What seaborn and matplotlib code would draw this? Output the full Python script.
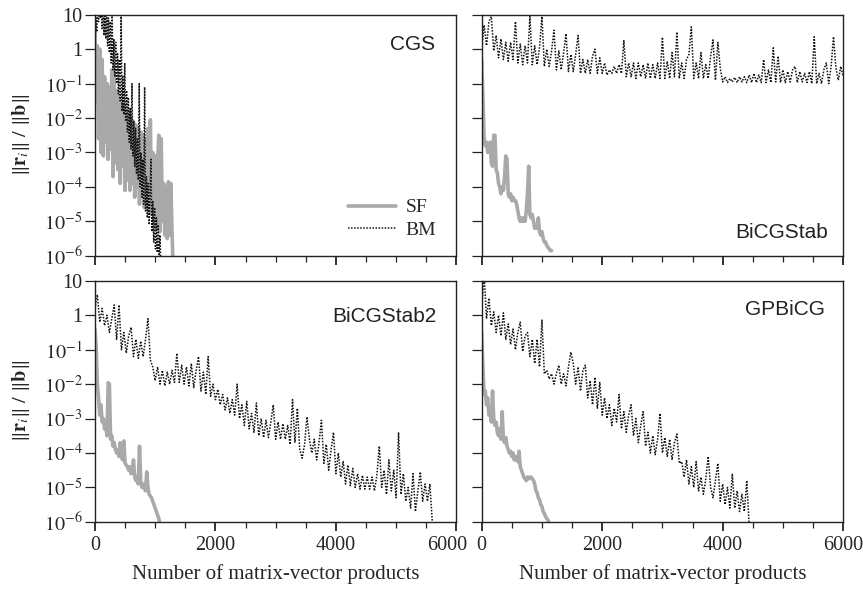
import numpy as np
import pandas as pd
import matplotlib
matplotlib.use("Agg")
import matplotlib.pyplot as plt
import seaborn as sns
from matplotlib.lines import Line2D
from matplotlib.transforms import ScaledTranslation
from matplotlib.ticker import FixedLocator, FixedFormatter, MultipleLocator, NullLocator


# residual histories as log10(||r_i|| / ||b||)
# SF sampled every 20 matvecs, BM every 40 (CGS BM every 15)
SF_STEP = 20
BM_STEP = 40
CGS_BM_STEP = 15

cgs_sf = [
    0.7, -1.5, 0.1, -2.6, 0.0, -3.0, -0.3, -3.1, -0.8, -2.7,
    -1.0, -3.2, -1.1, -2.9, -0.6, -3.7, -0.8, -3.3, -1.2, -3.5,
    -1.4, -3.9, -1.6, -3.4, -1.6, -4.1, -1.8, -3.8, -1.9, -4.1,
    -2.0, -3.9, -2.1, -4.3, -2.2, -4.0, -2.3, -4.5, -2.4, -4.2,
    -2.5, -4.6, -2.6, -4.4, -2.3, -4.7, -2.05, -4.8, -3.0, -5.0,
    -3.1, -5.2, -3.3, -2.5, -5.3, -2.6, -5.0, -3.9, -5.4, -4.0,
    -5.5, -3.85, -5.4, -3.9, -5.3, -6.5,
]
cgs_bm = [
    0.0, 0.9, 0.5, 1.3, 0.8, 1.4, 0.9, 1.3, 0.6, 1.6,
    0.4, 1.4, 0.3, 1.3, 0.1, 0.9, -0.1, 0.8, -0.4, 1.1,
    -0.6, 0.3, -0.8, 0.2, -1.0, -0.1, -1.3, -0.3, -1.5, 1.0,
    -1.8, -0.8, -1.9, -0.4, -2.1, -1.2, -2.4, -1.4, -2.7, -1.7,
    -2.9, -1.0, -3.1, -2.1, -3.4, -2.3, -3.6, -2.6, -3.8, -1.0,
    -4.0, -3.0, -4.3, -3.2, -4.5, -1.1, -4.7, -3.7, -4.9, -3.9,
    -5.1, -4.1, -3.2, -5.3, -4.4, -5.6, -4.6, -5.8, -4.9, -5.9,
    -5.1, -6.0, -5.4, -6.3,
]

bicgstab_sf = [
    -0.3, -1.4, -2.6, -2.8, -2.7, -3.0, -2.8, -2.7, -3.3, -3.4,
    -2.5, -2.5, -3.5, -3.6, -3.9, -4.0, -4.2, -4.0, -4.1, -3.7,
    -3.1, -3.2, -4.2, -4.3, -4.2, -4.4, -4.3, -4.4, -4.4, -4.5,
    -4.7, -4.9, -5.0, -4.9, -5.0, -4.9, -5.0, -4.7, -4.2, -3.4,
    -4.8, -4.9, -4.8, -5.0, -5.2, -5.1, -5.2, -4.9, -5.3, -5.4,
    -5.3, -5.5, -5.6, -5.6, -5.7, -5.75, -5.8, -5.85, -5.85,
]
bicgstab_bm = [
    0.0, 0.7, 0.1, 0.8, 0.95, -0.05, 0.4, -0.25, 0.3, -0.3,
    0.2, -0.35, 0.2, -0.3, 0.8, -0.4, 0.15, -0.45, 0.1, -0.4,
    0.95, -0.45, 0.1, -0.45, 0.05, 0.95, -0.5, 0.0, -0.5, -0.05,
    0.55, -0.6, -0.05, -0.6, -0.1, 0.45, -0.65, -0.15, -0.65, -0.15,
    0.4, -0.7, -0.3, -0.7, -0.3, -0.7, -0.2, 0.0, -0.7, -0.25,
    -0.7, -0.4, -0.75, -0.6, -0.7, -0.5, -0.7, -0.45, -0.7, 0.25,
    -0.8, -0.4, -0.8, -0.4, -0.85, -0.4, -0.8, -0.45, -0.85, -0.4,
    -0.85, -0.45, -0.85, -0.4, -0.85, 0.35, -0.85, -0.35, -0.85, -0.1,
    -0.8, 0.5, -0.85, -0.4, -0.85, -0.3, -0.15, 0.65, -0.85, -0.4,
    -0.85, -0.1, -0.85, -0.45, -0.85, -0.2, 0.27, -0.9, 0.2, -0.55,
    -0.95, -0.8, -0.97, -0.85, -0.95, -0.82, -0.97, -0.8, -0.95, -0.8,
    -0.97, -0.75, -0.97, -0.7, -0.97, -0.75, -0.97, -0.3, -0.97, -0.6,
    -0.97, 0.04, -0.95, -0.2, -0.97, -0.6, -0.97, -0.65, -0.95, -0.6,
    -0.5, -0.97, -0.65, -0.95, -0.7, -0.97, -0.65, -1.0, 0.36, -1.0,
    -0.7, -1.0, -0.6, -0.4, -1.0, -0.5, 0.36, -0.55, -0.9, -0.5,
    -0.8,
]

bicgstab2_sf = [
    -0.4, -0.9, -2.0, -2.4, -2.9, -2.6, -3.1, -3.0, -3.3, -3.2,
    -3.5, -1.96, -2.0, -3.6, -3.5, -3.8, -3.7, -3.9, -4.0, -3.9,
    -4.1, -3.7, -4.1, -4.2, -3.65, -4.3, -4.35, -4.4, -4.5, -4.4,
    -4.6, -4.5, -4.2, -4.7, -4.8, -4.7, -4.9, -3.8, -4.8, -5.0,
    -4.9, -5.0, -5.1, -4.55, -5.0, -5.2, -5.25, -5.3, -5.4, -5.5,
    -5.6, -5.7, -5.8, -5.9, -6.1,
]
bicgstab2_bm = [
    0.2, 0.6, -0.2, 0.2, -0.3, 0.0, -0.5, -0.1, 0.3, -0.7,
    0.3, -1.0, -0.5, -1.1, -0.6, -0.35, -1.2, -0.7, -1.25, -0.75,
    -1.2, -0.7, -0.1, -1.3, -1.5, -1.9, -1.5, -2.0, -1.6, -2.05,
    -1.65, -2.0, -1.6, -1.95, -1.1, -1.95, -1.45, -2.0, -1.5, -2.05,
    -1.4, -2.1, -1.6, -1.2, -2.2, -1.65, -2.3, -1.2, -2.35, -2.0,
    -2.45, -2.15, -2.6, -2.3, -2.75, -2.4, -2.85, -2.45, -2.9, -2.0,
    -3.0, -2.6, -3.2, -2.5, -3.3, -2.85, -3.4, -2.55, -3.5, -3.0,
    -3.55, -3.05, -3.55, -3.1, -2.6, -3.6, -3.1, -3.6, -3.15, -3.6,
    -3.2, -3.75, -2.45, -3.7, -2.7, -3.9, -4.15, -3.75, -2.95, -3.6,
    -4.0, -3.6, -4.2, -3.7, -3.05, -4.3, -3.75, -4.5, -3.9, -3.4,
    -4.6, -4.0, -4.7, -4.25, -4.9, -4.35, -4.95, -4.45, -5.0, -4.6,
    -5.05, -4.65, -5.05, -4.7, -5.05, -4.7, -5.1, -4.65, -3.8, -5.0,
    -4.5, -5.2, -4.2, -5.1, -4.5, -5.3, -3.4, -5.2, -4.6, -5.4,
    -5.0, -5.6, -4.6, -5.7, -5.1, -4.55, -5.4, -4.9, -5.4, -4.9,
    -6.0,
]

gpbicg_sf = [
    -0.5, -1.5, -2.3, -2.2, -2.6, -2.4, -2.9, -2.7, -3.1, -2.2,
    -3.0, -3.2, -3.1, -3.4, -3.5, -3.3, -3.6, -2.8, -3.6, -3.7,
    -3.55, -3.8, -3.9, -4.0, -3.95, -4.1, -4.0, -4.2, -4.1, -4.2,
    -4.25, -3.95, -4.4, -4.5, -4.6, -4.7, -4.75, -4.8, -4.7, -4.75,
    -4.7, -4.7, -4.75, -4.8, -4.9, -5.1, -5.15, -5.3, -5.35, -5.5,
    -5.55, -5.7, -5.75, -5.85, -5.9, -5.95, -6.05,
]
gpbicg_bm = [
    0.2, 1.2, -0.1, 0.5, -0.3, 0.1, -0.5, 0.0, -0.6, 0.07,
    -0.7, -0.25, -0.85, -0.4, -1.0, -0.5, -0.2, -1.05, -0.6, -0.5,
    -1.2, -0.7, -1.4, -0.7, -1.5, -0.14, -1.7, -1.6, -1.85, -1.7,
    -2.0, -1.7, -1.45, -2.0, -1.7, -2.05, -1.5, -1.07, -1.4, -2.0,
    -1.5, -2.2, -1.6, -1.45, -2.4, -1.9, -2.6, -1.8, -2.7, -1.95,
    -2.9, -2.4, -3.0, -2.6, -3.2, -2.7, -3.1, -2.3, -3.3, -2.8,
    -3.4, -2.9, -2.6, -3.5, -3.0, -3.7, -3.2, -2.8, -3.8, -3.4,
    -4.0, -3.5, -4.05, -3.6, -2.85, -4.0, -3.55, -4.1, -3.6, -4.2,
    -3.7, -3.45, -4.3, -4.25, -4.7, -4.2, -4.9, -4.4, -5.0, -4.25,
    -5.1, -4.7, -5.2, -4.75, -4.1, -5.0, -5.3, -4.8, -4.3, -5.4,
    -4.9, -5.5, -5.0, -5.6, -4.6, -5.6, -5.1, -5.7, -5.2, -5.7,
    -4.8, -6.1,
]

panel_names = ["CGS", "BiCGStab", "BiCGStab2", "GPBiCG"]
series_labels = ["SF", "BM"]
x_ticks = [0, 2000, 4000, 6000]
y_ticks = [1e-6, 1e-5, 1e-4, 1e-3, 1e-2, 1e-1, 1, 10]
y_tick_labels = [r"$10^{-6}$", r"$10^{-5}$", r"$10^{-4}$", r"$10^{-3}$",
                 r"$10^{-2}$", r"$10^{-1}$", "1", "10"]

SF_COLOR = "#a9a9a9"
BM_COLOR = "#111111"
BM_DOTS = (0, (1.0, 1.0))


def make_frame(log_res, step):
    return pd.DataFrame({
        "matvec": np.arange(len(log_res)) * step,
        "res": 10.0 ** np.asarray(log_res),
    })


def draw_panel(ax, name, sf, bm, bm_step, name_xy):
    sns.lineplot(data=make_frame(sf, SF_STEP), x="matvec", y="res", ax=ax,
                 color=SF_COLOR, linewidth=2.6, estimator=None, sort=False)
    sns.lineplot(data=make_frame(bm, bm_step), x="matvec", y="res", ax=ax,
                 color=BM_COLOR, linewidth=1.1, linestyle=BM_DOTS,
                 estimator=None, sort=False)
    ax.text(name_xy[0], name_xy[1], name, transform=ax.transAxes,
            ha="right", va="baseline", fontsize=15,
            family=["Liberation Sans", "DejaVu Sans"], color="#222222")


sns.set_style("ticks")
plt.rcParams["font.family"] = ["Liberation Serif", "DejaVu Serif"]
plt.rcParams["mathtext.fontset"] = "stix"

fig, axes = plt.subplots(2, 2, figsize=(8.63, 5.91), dpi=100, sharex=True, sharey=True)
fig.subplots_adjust(left=0.110, right=0.977, top=0.975, bottom=0.117,
                    wspace=0.070, hspace=0.104)

draw_panel(axes[0, 0], panel_names[0], cgs_sf, cgs_bm, CGS_BM_STEP, (0.942, 0.855))
draw_panel(axes[0, 1], panel_names[1], bicgstab_sf, bicgstab_bm, BM_STEP, (0.958, 0.075))
draw_panel(axes[1, 0], panel_names[2], bicgstab2_sf, bicgstab2_bm, BM_STEP, (0.945, 0.830))
draw_panel(axes[1, 1], panel_names[3], gpbicg_sf, gpbicg_bm, BM_STEP, (0.950, 0.859))

for ax in axes.flat:
    ax.set_yscale("log")
    ax.set_xlim(0, 6000)
    ax.set_ylim(1e-6, 10)
    ax.xaxis.set_major_locator(FixedLocator(x_ticks))
    ax.xaxis.set_minor_locator(MultipleLocator(500))
    ax.yaxis.set_major_locator(FixedLocator(y_ticks))
    ax.yaxis.set_major_formatter(FixedFormatter(y_tick_labels))
    ax.yaxis.set_minor_locator(NullLocator())
    ax.tick_params(axis="x", which="major", direction="out", length=6.5, width=1.3,
                   labelsize=14.5, color="#222222", top=False)
    ax.tick_params(axis="x", which="minor", direction="out", length=4, width=0.9,
                   color="#222222", top=False)
    ax.tick_params(axis="y", which="major", direction="out", length=7, width=0.9,
                   labelsize=14.5, color="#222222", right=False, pad=2)
    for spine in ax.spines.values():
        spine.set_linewidth(1.0)
        spine.set_color("#222222")
    ax.set_xlabel("")
    ax.set_ylabel("")

for ax in axes[1, :]:
    ax.set_xlabel("Number of matrix-vector products", fontsize=15)
    ax.xaxis.set_label_coords(0.5, -0.175)
for ax in axes[:, 0]:
    ax.set_ylabel(r"$\|\mathbf{r}_i\|\ /\ \|\mathbf{b}\|$", fontsize=14.5)
    ax.yaxis.set_label_coords(-0.174, 0.5)

# the 6000 of the left panel sits a little to the left so it clears the 0 beside it
last = axes[1, 0].xaxis.get_major_ticks()[-1].label1
last.set_transform(last.get_transform() + ScaledTranslation(-0.09, 0, fig.dpi_scale_trans))

handles = [
    Line2D([], [], color=SF_COLOR, linewidth=2.6),
    Line2D([], [], color=BM_COLOR, linewidth=1.1, linestyle=BM_DOTS),
]
axes[0, 0].legend(handles, series_labels, loc="lower right", bbox_to_anchor=(0.945, 0.07),
                  frameon=False, fontsize=14, handlelength=2.5, handletextpad=0.5,
                  labelspacing=0.25, borderpad=0, borderaxespad=0)

fig.savefig("out.png", dpi=100)
